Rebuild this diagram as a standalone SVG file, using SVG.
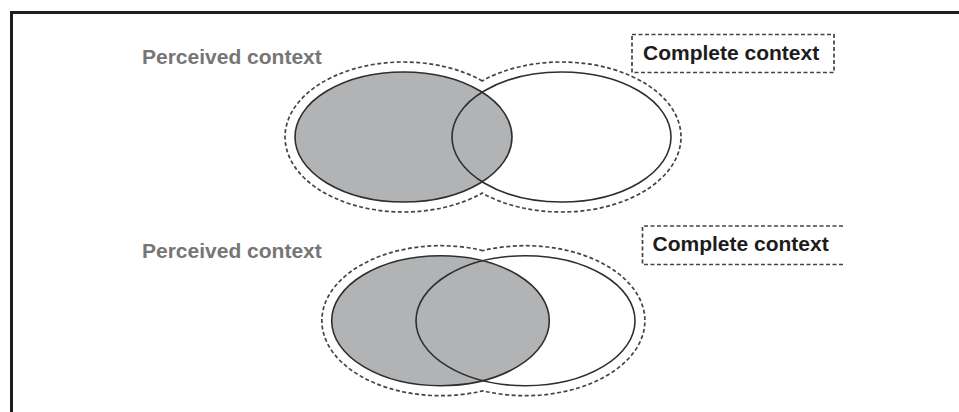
<svg xmlns="http://www.w3.org/2000/svg" width="959" height="412" viewBox="0 0 959 412">
  <style>
    .frame { stroke: #1e1e1e; stroke-width: 3; fill: none; }
    .label-perceived { font-family: "Liberation Sans", Arial, sans-serif; font-weight: bold; font-size: 21px; fill: #767676; }
    .label-complete { font-family: "Liberation Sans", Arial, sans-serif; font-weight: bold; font-size: 21px; fill: #1c1c1c; }
    .dashed { fill: none; stroke: #444444; stroke-width: 1.7; stroke-dasharray: 4 2.5; }
    .perceived { fill: #b2b3b5; stroke: #2e2e2e; stroke-width: 1.6; }
    .complete { fill: none; stroke: #2e2e2e; stroke-width: 1.6; }
  </style>

  <rect width="959" height="412" fill="#ffffff"/>

  <!-- outer frame: left and top edges -->
  <g id="frame">
    <path class="frame" d="M 11.5 412 L 11.5 12.5 L 959 12.5"/>
  </g>

  <!-- upper panel: small overlap -->
  <g id="panel-top">
    <text class="label-perceived" x="142" y="63.5">Perceived context</text>
    <g id="complete-label-top">
      <rect class="dashed" x="632" y="34.5" width="202" height="38"/>
      <text class="label-complete" x="643" y="60">Complete context</text>
    </g>
    <path class="dashed" d="M 482.2 80.9 A 118.5 75 0 1 0 482.2 193.1 A 119.5 75 0 1 0 482.2 80.9 Z"/>
    <ellipse id="perceived-top" class="perceived" cx="403.5" cy="137" rx="108.5" ry="65"/>
    <ellipse id="complete-top" class="complete" cx="561.5" cy="137" rx="109.5" ry="65"/>
  </g>

  <!-- lower panel: large overlap -->
  <g id="panel-bottom">
    <text class="label-perceived" x="142" y="257.5">Perceived context</text>
    <g id="complete-label-bottom">
      <path class="dashed" d="M 843 226 L 642.5 226 L 642.5 264.5 L 843 264.5"/>
      <text class="label-complete" x="652.5" y="251">Complete context</text>
    </g>
    <path class="dashed" d="M 482.9 250.6 A 118.8 75 0 1 0 482.9 390.8 A 119.5 75 0 1 0 482.9 250.6 Z"/>
    <ellipse id="perceived-bottom" class="perceived" cx="440.5" cy="320.7" rx="108.8" ry="65"/>
    <ellipse id="complete-bottom" class="complete" cx="525.5" cy="320.7" rx="109.5" ry="65"/>
  </g>
</svg>
